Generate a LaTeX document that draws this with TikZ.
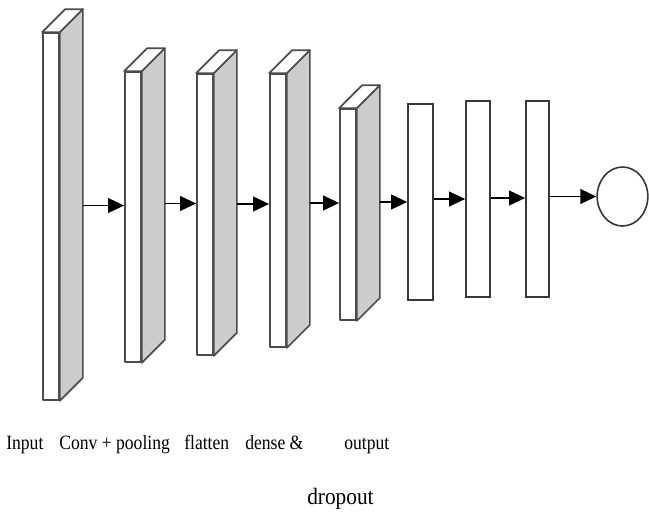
\documentclass[tikz,border=0pt]{standalone}
\usepackage{fontspec}
\usepackage{graphicx}
\setmainfont{Liberation Serif}
\usetikzlibrary{arrows.meta,fit,shapes.geometric}

\tikzset{
  face/.style={draw=black!70, line width=1.25pt, line join=round},
  front/.style={face, fill=white, inner sep=0pt},
  side/.style={face, fill=black!20},
  topface/.style={face, fill=white},
  unit/.style={draw=black!78, line width=1.2pt, fill=white, inner sep=0pt},
  arr/.style={-{Triangle[length=12pt 0,width=11pt 0]}, line width=1.35pt, black},
  lbl/.style={anchor=base west, inner sep=0pt, font=\fontsize{13.2}{15}\selectfont},
  biglbl/.style={anchor=base west, inner sep=0pt, font=\fontsize{16}{18}\selectfont},
}

% a 3-D slab: name, left x, right x, top y, bottom y (front face)
\newcommand\slabblock[5]{%
  \node[front, fit={(#2,#4) (#3,#5)}] (#1) {};
  \draw[side] (#1.north east) -- ++(23,-23) -- ([shift={(23,-23)}]#1.south east)
              -- (#1.south east) -- cycle;
  \draw[topface] (#1.north west) -- ++(23,-23) -- ([shift={(23,-23)}]#1.north east)
              -- (#1.north east) -- cycle;
}

\begin{document}
\begin{tikzpicture}[x=0.75pt,y=-0.75pt]
\useasboundingbox (0,0) rectangle (649,511);

% convolutional stack
\slabblock{s1}{43}{59}{33}{400}
\slabblock{s2}{125}{141}{72}{362}
\slabblock{s3}{197}{213}{74}{355}
\slabblock{s4}{270}{286}{74}{347}
\slabblock{s5}{340}{356}{109}{320}

% dense units
\node[unit, fit={(408,104) (433,300)}] (r1) {};
\node[unit, fit={(466,101) (490,297)}] (r2) {};
\node[unit, fit={(526,101) (549,297)}] (r3) {};

% output neuron
\node[unit, ellipse, minimum width=38pt, minimum height=44.25pt] (out) at (622.5,196.5) {};

% arrow heights
\coordinate (y1) at (0,205.5);
\coordinate (y2) at (0,203.5);
\coordinate (y3) at (0,204);
\coordinate (y4) at (0,203);
\coordinate (y5) at (0,202);
\coordinate (y6) at (0,199);
\coordinate (y7) at (0,198);

\draw[arr] ([xshift=17.25pt]s1.east |- y1) -- (s2.west |- y1);
\draw[arr] ([xshift=17.25pt]s2.east |- y2) -- (s3.west |- y2);
\draw[arr] ([xshift=17.25pt]s3.east |- y3) -- (s4.west |- y3);
\draw[arr] ([xshift=17.25pt]s4.east |- y4) -- (s5.west |- y4);
\draw[arr] ([xshift=17.25pt]s5.east |- y5) -- (r1.west |- y5);
\draw[arr] (r1.east |- y6) -- (r2.west |- y6);
\draw[arr] (r2.east |- y7) -- (r3.west |- y7);
\draw[arr] (r3.east |- out.west) -- (out.west);

% labels
\node[lbl] (linput) at (6,449.5) {\scalebox{1}[1.15]{Input}};
\node[lbl] (lconv) at (59,449.5) {\scalebox{1}[1.15]{Conv + pooling}};
\node[lbl] (lflat) at (184,449.5) {\scalebox{1}[1.15]{flatten}};
\node[lbl] (ldense) at (245,449.5) {\scalebox{1}[1.15]{dense \&}};
\node[lbl] (lout) at (344,449.5) {\scalebox{1}[1.15]{output}};
\node[biglbl] (ldrop) at (307,504.5) {\scalebox{1}[1.1]{dropout}};
\end{tikzpicture}
\end{document}
